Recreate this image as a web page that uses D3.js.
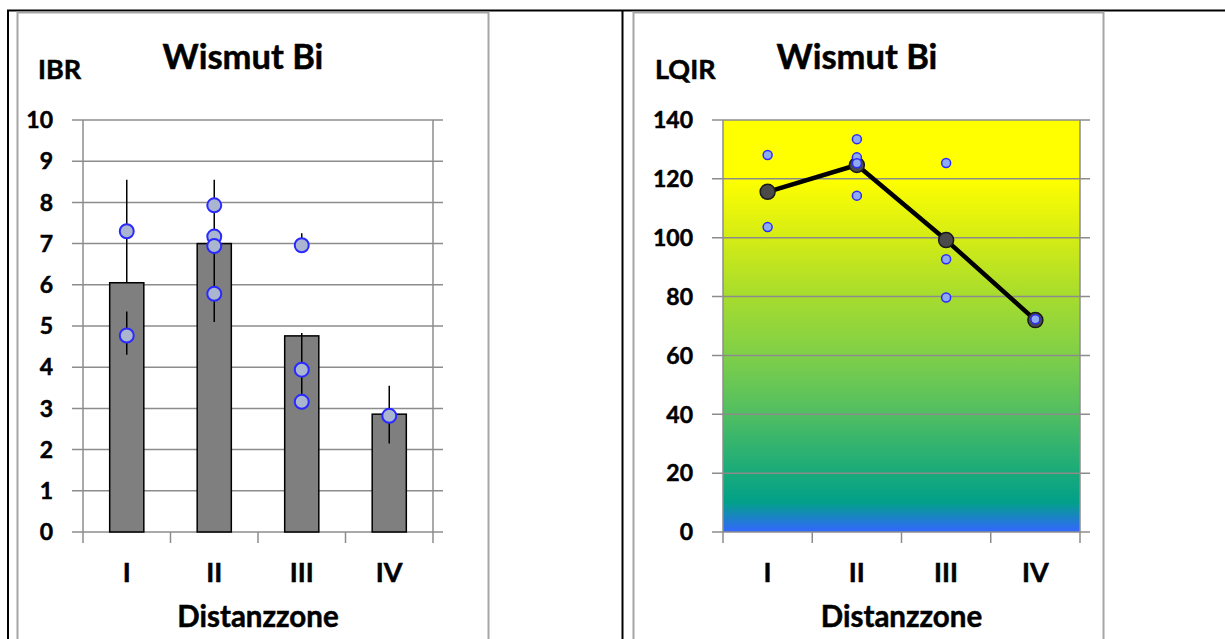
<!DOCTYPE html>
<html>
<head>
<meta charset="utf-8">
<script src="https://cdn.jsdelivr.net/npm/d3@7"></script>
<style>
  body { margin: 0; background: #fff; }
  svg { display: block; font-family: Lato, "Open Sans", sans-serif; font-weight: bold; }
  svg text { stroke: #000; stroke-width: 0.5px; paint-order: stroke; }
</style>
</head>
<body>
<svg id="chart" width="1225" height="639"></svg>
<script>
const zones = ["I", "II", "III", "IV"]

// IBR panel
const ibrTicks = [0, 1, 2, 3, 4, 5, 6, 7, 8, 9, 10]
const ibrMeans = [6.05, 7.0, 4.76, 2.86]
const ibrPoints = [[7.3, 4.77], [7.93, 7.17, 6.94, 5.78], [6.96, 3.94, 3.16], [2.82]]
const ibrErrors = [
  [[6.05, 8.55], [4.3, 5.35]],
  [[5.1, 8.55]],
  [[6.96, 7.25], [3.16, 4.83]],
  [[2.15, 3.55]]
]

// LQIR panel
const lqirTicks = [0, 20, 40, 60, 80, 100, 120, 140]
const lqirMeans = [115.6, 124.7, 99.2, 72.0]
const lqirPoints = [[128.1, 103.6], [133.5, 127.3, 125.3, 114.3], [125.4, 92.7, 79.7], [72.3]]

// background colour ramp of the LQIR plot area (value -> colour)
const rampValues = [140, 120, 100, 80, 60, 40, 20, 10, 0]
const rampColors = ["#ffff00", "#ffff00", "#d4ec14", "#a6dc2e", "#7fcf48", "#50be62", "#18aa7a", "#02a08a", "#3366ff"]

const svg = d3.select("#chart")
const gridColor = "#8c8c8c"

// page frame: black table rules and grey chart borders
svg.append("path")
  .attr("d", "M7,10.5H1225M8,10V639M622.5,10V639")
  .attr("stroke", "#000").attr("stroke-width", 2).attr("fill", "none")

const frames = [{ x: 17.5, w: 471 }, { x: 633.5, w: 470 }]
svg.selectAll("rect.frame").data(frames).join("rect")
  .attr("class", "frame")
  .attr("x", d => d.x).attr("y", 12.5)
  .attr("width", d => d.w).attr("height", 700)
  .attr("fill", "none").attr("stroke", "#a6a6a6").attr("stroke-width", 2)

function drawPanel({ left, right, top, bottom, ticks, yMax, yLabel, yLabelX, titleX }) {
  const g = svg.append("g")
  const x = d3.scaleBand().domain(zones).range([left, right])
  const y = d3.scaleLinear().domain([0, yMax]).range([bottom, top])

  // horizontal grid, extending as tick marks on both sides
  g.selectAll("line.grid").data(ticks).join("line")
    .attr("x1", left - 11).attr("x2", right + 10)
    .attr("y1", d => y(d)).attr("y2", d => y(d))
    .attr("stroke", gridColor).attr("stroke-width", 1.5)

  // tick labels
  g.selectAll("text.tick").data(ticks).join("text")
    .attr("x", left - 30).attr("y", d => y(d))
    .attr("dy", "0.36em")
    .attr("text-anchor", "end")
    .attr("font-size", 23)
    .text(d => d)

  // category labels
  g.selectAll("text.cat").data(zones).join("text")
    .attr("x", d => x(d) + x.bandwidth() / 2)
    .attr("y", 582)
    .attr("text-anchor", "middle")
    .attr("font-size", 27)
    .text(d => d)

  g.append("text")
    .attr("x", (left + right) / 2).attr("y", 627)
    .attr("text-anchor", "middle").attr("font-size", 29.5)
    .text("Distanzzone")

  g.append("text")
    .attr("x", titleX).attr("y", 69)
    .attr("text-anchor", "middle").attr("font-size", 34.5)
    .text("Wismut Bi")

  g.append("text")
    .attr("x", yLabelX).attr("y", 79)
    .attr("font-size", 27)
    .text(yLabel)

  return { g, x, y }
}

function drawFrameLines(g, x, y, left, right) {
  const edges = [left, ...zones.slice(1).map(z => x(z)), right]
  g.selectAll("line.xtick").data(edges).join("line")
    .attr("x1", d => d).attr("x2", d => d)
    .attr("y1", y(0)).attr("y2", y(0) + 11)
    .attr("stroke", gridColor).attr("stroke-width", 1.5)
  g.selectAll("line.vedge").data([left, right]).join("line")
    .attr("x1", d => d).attr("x2", d => d)
    .attr("y1", y.range()[1]).attr("y2", y(0))
    .attr("stroke", gridColor).attr("stroke-width", 1.5)
}

// ---- left: IBR bars ----
{
  const left = 83, right = 433
  const { g, x, y } = drawPanel({
    left, right, top: 120, bottom: 532, ticks: ibrTicks, yMax: 10,
    yLabel: "IBR", yLabelX: 38, titleX: 243
  })
  drawFrameLines(g, x, y, left, right)

  const bw = x.bandwidth() * 0.39
  g.selectAll("rect.bar").data(ibrMeans).join("rect")
    .attr("x", (d, i) => x(zones[i]) + x.bandwidth() / 2 - bw / 2)
    .attr("y", d => y(d))
    .attr("width", bw)
    .attr("height", d => y(0) - y(d))
    .attr("fill", "#7f7f7f").attr("stroke", "#000").attr("stroke-width", 1.5)

  const segs = ibrErrors.flatMap((list, i) => list.map(s => ({ zone: zones[i], lo: s[0], hi: s[1] })))
  g.selectAll("line.err").data(segs).join("line")
    .attr("x1", d => x(d.zone) + x.bandwidth() / 2)
    .attr("x2", d => x(d.zone) + x.bandwidth() / 2)
    .attr("y1", d => y(d.lo)).attr("y2", d => y(d.hi))
    .attr("stroke", "#000").attr("stroke-width", 1.5)

  const pts = ibrPoints.flatMap((list, i) => list.map(v => ({ zone: zones[i], v })))
  g.selectAll("circle.pt").data(pts).join("circle")
    .attr("cx", d => x(d.zone) + x.bandwidth() / 2)
    .attr("cy", d => y(d.v))
    .attr("r", 7)
    .attr("fill", "#aab6cf").attr("stroke", "#2a2aff").attr("stroke-width", 2)
}

// ---- right: LQIR line ----
{
  const left = 723, right = 1080
  const top = 120, bottom = 532
  const y0 = d3.scaleLinear().domain([0, 140]).range([bottom, top])

  const grad = svg.append("defs").append("linearGradient")
    .attr("id", "lqirGrad")
    .attr("gradientUnits", "userSpaceOnUse")
    .attr("x1", 0).attr("x2", 0).attr("y1", top).attr("y2", bottom)
  grad.selectAll("stop").data(rampValues).join("stop")
    .attr("offset", d => (y0(d) - top) / (bottom - top))
    .attr("stop-color", (d, i) => rampColors[i])

  svg.append("rect")
    .attr("x", left).attr("y", top)
    .attr("width", right - left).attr("height", bottom - top)
    .attr("fill", "url(#lqirGrad)")

  const { g, x, y } = drawPanel({
    left, right, top, bottom, ticks: lqirTicks, yMax: 140,
    yLabel: "LQIR", yLabelX: 655, titleX: 857
  })
  drawFrameLines(g, x, y, left, right)

  const cx = z => x(z) + x.bandwidth() / 2
  g.append("path")
    .datum(lqirMeans)
    .attr("d", d3.line().x((d, i) => cx(zones[i])).y(d => y(d)))
    .attr("fill", "none").attr("stroke", "#000").attr("stroke-width", 4.5)
    .attr("stroke-linejoin", "round")

  g.selectAll("circle.mean").data(lqirMeans).join("circle")
    .attr("cx", (d, i) => cx(zones[i]))
    .attr("cy", d => y(d))
    .attr("r", 7.5)
    .attr("fill", "#4a4a4a").attr("stroke", "#1a1a1a").attr("stroke-width", 1.5)

  const pts = lqirPoints.flatMap((list, i) => list.map(v => ({ zone: zones[i], v })))
  g.selectAll("circle.pt").data(pts).join("circle")
    .attr("cx", d => cx(d.zone))
    .attr("cy", d => y(d.v))
    .attr("r", 4.5)
    .attr("fill", "#8eaaf0").attr("stroke", "#2a2aff").attr("stroke-width", 1.5)
}
</script>
</body>
</html>
